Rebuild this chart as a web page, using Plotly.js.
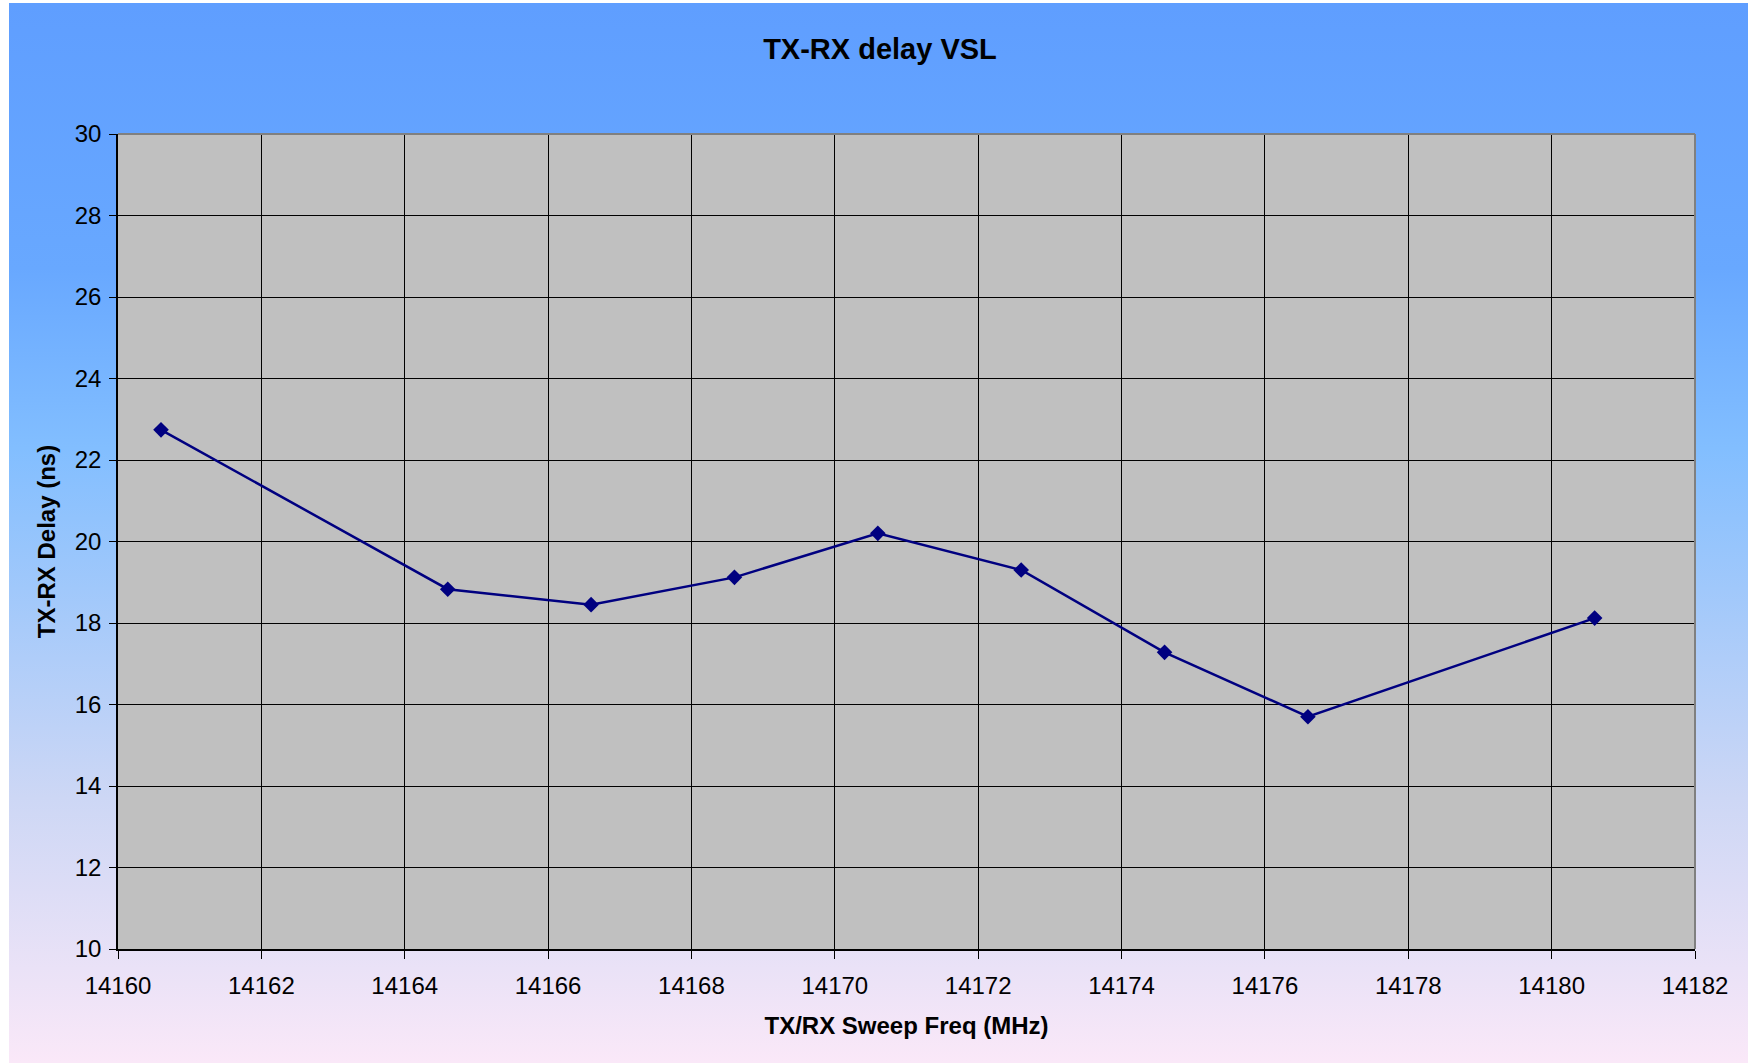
<!DOCTYPE html>
<html>
<head>
<meta charset="utf-8">
<script src="https://cdn.plot.ly/plotly-3.0.1.min.js"></script>
<style>
  html, body { margin: 0; padding: 0; background: #ffffff; }
  #wrap { position: relative; width: 1748px; height: 1063px; }
  #bg {
    position: absolute; left: 9px; top: 3px; width: 1739px; height: 1060px;
    background: linear-gradient(to bottom, rgb(95,158,255) 0%, rgb(104,168,255) 25%, rgb(130,190,255) 42%, rgb(205,215,245) 75%, rgb(250,232,248) 100%);
  }
  #chart { position: absolute; left: 0; top: 0; width: 1748px; height: 1063px; }
</style>
</head>
<body>
<div id="wrap">
  <div id="bg"></div>
  <div id="chart"></div>
</div>
<script>
const freqMHz = [14160.6, 14164.6, 14166.6, 14168.6, 14170.6, 14172.6, 14174.6, 14176.6, 14180.6];
const delayNs = [22.74, 18.83, 18.45, 19.12, 20.2, 19.3, 17.28, 15.7, 18.12];
const xTicks = [14160, 14162, 14164, 14166, 14168, 14170, 14172, 14174, 14176, 14178, 14180, 14182];
const yTicks = [10, 12, 14, 16, 18, 20, 22, 24, 26, 28, 30];

const fontFam = 'Liberation Sans, Arial, sans-serif';

const trace = {
  x: freqMHz,
  y: delayNs,
  type: 'scatter',
  mode: 'lines+markers',
  line: { color: '#000080', width: 2.5 },
  marker: { symbol: 'diamond', size: 12, color: '#000080' },
  hoverinfo: 'x+y'
};

const layout = {
  width: 1748,
  height: 1063,
  paper_bgcolor: 'rgba(0,0,0,0)',
  plot_bgcolor: '#c0c0c0',
  margin: { l: 118, r: 53, t: 134, b: 114, pad: 0 },
  showlegend: false,
  title: {
    text: '<b>TX-RX delay VSL</b>',
    font: { family: fontFam, size: 29, color: '#000000' },
    xref: 'container', yref: 'container',
    x: 880 / 1748, xanchor: 'center',
    y: 1 - 49 / 1063, yanchor: 'middle'
  },
  xaxis: {
    range: [14160, 14182],
    tickvals: xTicks,
    ticktext: xTicks.map(String),
    showgrid: true,
    gridcolor: '#000000',
    gridwidth: 1,
    zeroline: false,
    showline: true,
    linecolor: '#000000',
    linewidth: 1.5,
    mirror: false,
    ticks: 'outside',
    ticklen: 8,
    tickwidth: 1,
    tickcolor: '#000000',
    ticklabelstandoff: 6,
    tickfont: { family: fontFam, size: 24, color: '#000000' },
    title: {
      text: '<b>TX/RX Sweep Freq (MHz)</b>',
      font: { family: fontFam, size: 24, color: '#000000' },
      standoff: 20
    },
    fixedrange: true
  },
  yaxis: {
    range: [10, 30],
    tickvals: yTicks,
    ticktext: yTicks.map(String),
    showgrid: true,
    gridcolor: '#000000',
    gridwidth: 1,
    zeroline: false,
    showline: true,
    linecolor: '#000000',
    linewidth: 1.5,
    ticks: 'outside',
    ticklen: 7,
    tickwidth: 1,
    tickcolor: '#000000',
    ticklabelstandoff: 3,
    tickfont: { family: fontFam, size: 24, color: '#000000' },
    title: {
      text: '<b>TX-RX Delay (ns)</b>',
      font: { family: fontFam, size: 24, color: '#000000' },
      standoff: 12
    },
    fixedrange: true
  },
  shapes: [
    { type: 'line', xref: 'paper', yref: 'paper', x0: 0, x1: 1, y0: 1, y1: 1, line: { color: '#808080', width: 2 } },
    { type: 'line', xref: 'paper', yref: 'paper', x0: 1, x1: 1, y0: 0, y1: 1, line: { color: '#808080', width: 2 } }
  ]
};

Plotly.newPlot('chart', [trace], layout, { displayModeBar: false, staticPlot: false });
</script>
</body>
</html>
